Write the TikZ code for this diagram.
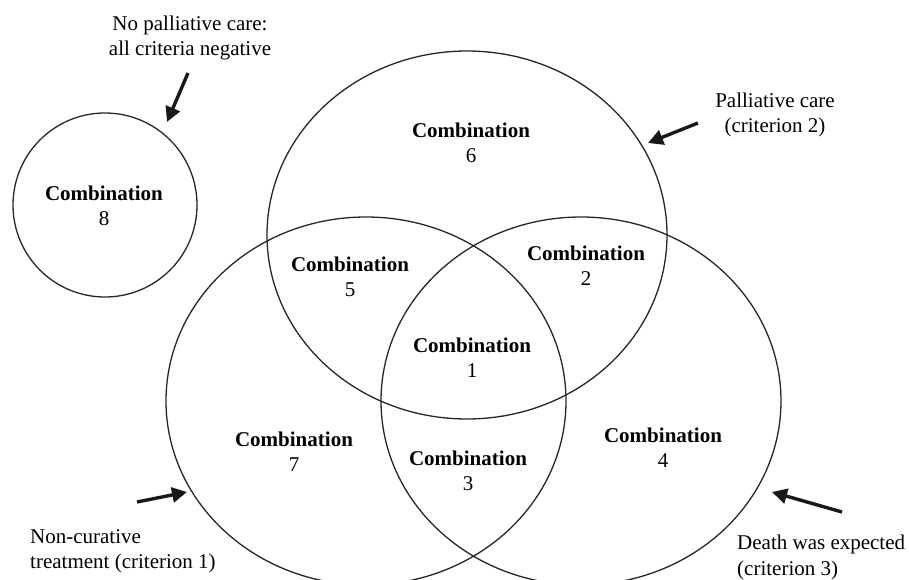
\documentclass[tikz,border=0pt]{standalone}
\usepackage{fontspec}
\setmainfont{Liberation Serif}
\usetikzlibrary{shapes.geometric,arrows.meta}
\tikzset{
  setring/.style={draw=black!85, line width=1.3pt, ellipse, inner sep=0pt, minimum width=400pt, minimum height=368pt},
  smallring/.style={draw=black!85, line width=1.3pt, circle, inner sep=0pt, minimum size=184pt},
  combo/.style={align=center, inner sep=0pt, font=\fontsize{21}{25}\selectfont},
  note/.style={inner sep=0pt, font=\fontsize{21}{25.5}\selectfont},
  pointer/.style={line width=3.4pt, -{Triangle[length=15pt,width=15pt]}, black!90}
}
\begin{document}
\begin{tikzpicture}[x=1pt,y=-1pt]
\useasboundingbox (0,0) rectangle (909,580);
% sets
\node[smallring] (c8) at (105,205) {};
\node[setring] (ctop) at (467,235) {};
\node[setring] (cleft) at (366,401) {};
\node[setring] (cright) at (581,401) {};
% region labels
\node[combo] (t8) at (104,205.5) {\textbf{Combination}\\8};
\node[combo] (t6) at (471,143) {\textbf{Combination}\\6};
\node[combo] (t5) at (350,277) {\textbf{Combination}\\5};
\node[combo] (t2) at (586,266) {\textbf{Combination}\\2};
\node[combo] (t1) at (472,358) {\textbf{Combination}\\1};
\node[combo] (t7) at (294,451.5) {\textbf{Combination}\\7};
\node[combo] (t3) at (468,470.5) {\textbf{Combination}\\3};
\node[combo] (t4) at (663,448) {\textbf{Combination}\\4};
% outside notes
\node[note, align=center] (n8) at (190,38) {No palliative care:\\all criteria negative};
\node[note, align=center] (n2) at (775,115) {Palliative care\\(criterion 2)};
\node[note, align=left, anchor=west] (n1) at (30,551.5) {Non-curative\\treatment (criterion 1)};
\node[note, align=left, anchor=west] (n3) at (737,557.5) {Death was expected\\(criterion 3)};
% arrows
\coordinate (a8s) at (188,73);  \coordinate (a8e) at (167,122);
\coordinate (a2s) at (698,123); \coordinate (a2e) at (648,143);
\coordinate (a1s) at (137,502); \coordinate (a1e) at (187,492);
\coordinate (a3s) at (842,512); \coordinate (a3e) at (772,492);
\draw[pointer] (a8s) -- (a8e);
\draw[pointer] (a2s) -- (a2e);
\draw[pointer] (a1s) -- (a1e);
\draw[pointer] (a3s) -- (a3e);
\end{tikzpicture}
\end{document}
